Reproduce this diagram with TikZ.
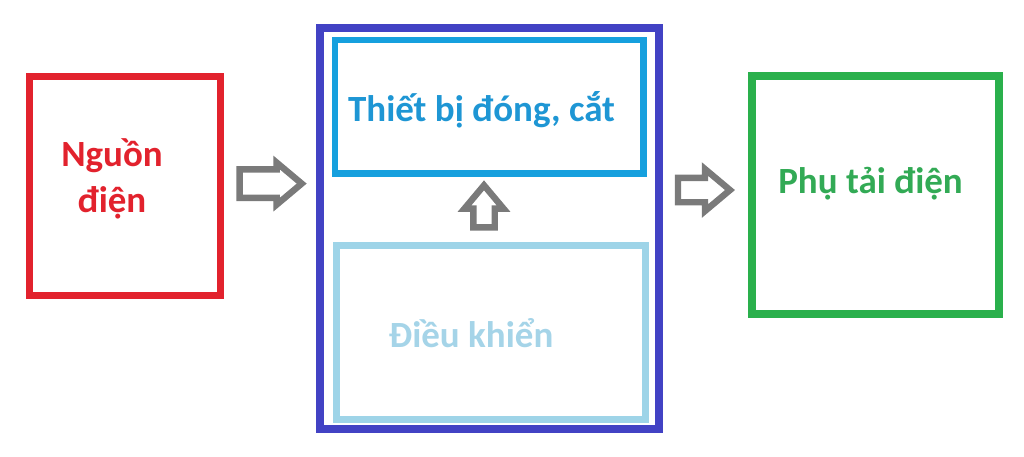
\documentclass[tikz,border=0pt]{standalone}
\usepackage{fontspec}
\setmainfont{Carlito}
\usetikzlibrary{shapes.arrows}

\definecolor{srcred}{RGB}{226,34,45}
\definecolor{frameblue}{RGB}{66,66,196}
\definecolor{switchcyan}{RGB}{22,160,222}
\definecolor{switchtextcol}{RGB}{30,150,212}
\definecolor{ctrlblue}{RGB}{158,212,232}
\definecolor{ctrltextcol}{RGB}{165,212,232}
\definecolor{loadgreen}{RGB}{42,176,76}
\definecolor{loadtextcol}{RGB}{50,170,85}
\definecolor{arrowgray}{RGB}{122,122,122}

\tikzset{
  box/.style={draw, rectangle, inner sep=0pt, outer sep=0pt},
  lbl/.style={font=\bfseries\fontsize{26.3}{32.7}\selectfont, anchor=base, inner sep=0pt, align=center},
  blockarrow/.style={single arrow, draw=arrowgray, fill=white, line width=0.16cm, inner sep=0pt,
    text height=0.55cm, text depth=0pt, minimum height=1.55cm, single arrow head extend=0.17cm,
    single arrow tip angle=80, rotate=#1},
  blockarrow/.default=0,
}

\begin{document}
\begin{tikzpicture}[x=0.025cm, y=-0.025cm]

    \useasboundingbox (0,0) rectangle (1024,456);

    \node[box, draw=srcred, line width=0.175cm, minimum width=4.75cm, minimum height=5.475cm] (src) at (125,186) {};
    \node[box, draw=frameblue, line width=0.2cm, minimum width=8.4625cm, minimum height=10.0125cm] (frame) at (489.75,228.75) {};
    \node[box, draw=switchcyan, line width=0.1625cm, minimum width=7.7125cm, minimum height=3.3375cm] (switch) at (489.25,106.75) {};
    \node[box, draw=ctrlblue, line width=0.175cm, minimum width=7.7125cm, minimum height=4.3375cm] (ctrl) at (490.75,332.25) {};
    \node[box, draw=loadgreen, line width=0.2cm, minimum width=6.175cm, minimum height=5.9375cm] (load) at (875.5,195.25) {};

    \node[lbl, text=srcred] (srctext) at (112,212) {Nguồn\\điện};
    \node[lbl, text=switchtextcol] (switchtext) at (481.5,121) {Thiết bị đóng, cắt};
    \node[lbl, text=ctrltextcol] (ctrltext) at (471,347) {Điều khiển};
    \node[lbl, text=loadtextcol] (loadtext) at (870.5,193) {Phụ tải điện};

    \path (src.east) -- (src.east -| frame.west) node[midway, xshift=-0.2cm, yshift=0.06cm, blockarrow] (feed) {};
    \path (ctrl.north) -- (switch.south) node[midway, xshift=-0.15cm, yshift=-0.08cm, blockarrow=90, minimum height=1.05cm, text height=0.375cm, single arrow head extend=0.22cm] (command) {};
    \path (frame.east |- load.west) -- (load.west) node[midway, xshift=-0.22cm, yshift=0.13cm, blockarrow, minimum height=1.3cm, text height=0.45cm, single arrow head extend=0.22cm] (supply) {};

\end{tikzpicture}
\end{document}
